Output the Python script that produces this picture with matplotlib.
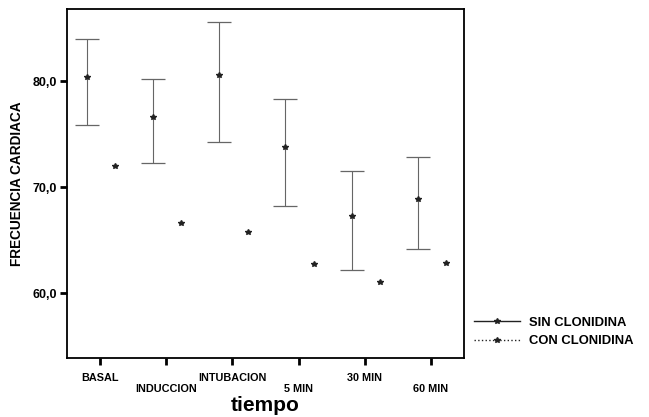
import matplotlib
matplotlib.use("Agg")
import matplotlib.pyplot as plt
from matplotlib.lines import Line2D

plt.rcParams['font.family'] = ['Liberation Sans', 'DejaVu Sans']

categories = ["BASAL", "INDUCCION", "INTUBACION", "5 MIN", "30 MIN", "60 MIN"]
sin_mean = [80.4, 76.6, 80.6, 73.8, 67.3, 68.9]
sin_low = [75.9, 72.3, 74.3, 68.2, 62.2, 64.2]
sin_high = [84.0, 80.2, 85.6, 78.3, 71.5, 72.8]
con_mean = [72.0, 66.6, 65.8, 62.7, 61.0, 62.8]
yticks = [60.0, 70.0, 80.0]
ytick_labels = ["60,0", "70,0", "80,0"]

fig = plt.figure(figsize=(6.49, 4.17), dpi=100)
ax = fig.add_axes([0.1032, 0.1415, 0.6118, 0.8365])

x = list(range(len(categories)))
xs = [i - 0.2 for i in x]
xc = [i + 0.23 for i in x]

yerr = [[m - l for m, l in zip(sin_mean, sin_low)],
        [h - m for m, h in zip(sin_mean, sin_high)]]
ax.errorbar(xs, sin_mean, yerr=yerr, fmt='*', color='#222222', ecolor='#666666',
            elinewidth=0.8, capsize=8.5, capthick=0.9, markersize=4)
ax.plot(xc, con_mean, linestyle='none', marker='*', color='#222222', markersize=4)

ax.set_xlim(-0.5, 5.5)
ax.set_ylim(53.87, 86.8)
ax.set_yticks(yticks)
ax.set_yticklabels(ytick_labels, fontsize=9, fontweight='bold')
ax.set_xticks(x)
labels = [c if i % 2 == 0 else "\n" + c for i, c in enumerate(categories)]
ax.set_xticklabels(labels, fontsize=7.8, fontweight='bold', linespacing=1.15)
ax.tick_params(axis='both', direction='out', length=5, width=2)
ax.tick_params(axis='x', pad=6)
ax.tick_params(axis='y', pad=2)
for s in ax.spines.values():
    s.set_linewidth(1.3)

ax.set_ylabel("FRECUENCIA CARDIACA", fontsize=9.8, fontweight='bold', labelpad=6)
ax.set_xlabel("tiempo", fontsize=15, fontweight='bold', labelpad=1)

handles = [
    Line2D([0], [0], color='#222222', lw=1.0, linestyle='-', marker='*', markersize=4),
    Line2D([0], [0], color='#222222', lw=1.0, linestyle=':', marker='*', markersize=4),
]
fig.legend(handles, ["SIN CLONIDINA", "CON CLONIDINA"], loc='center left',
           bbox_to_anchor=(0.713, 0.204), frameon=False,
           prop={'weight': 'bold', 'size': 9.4}, handlelength=3.5,
           handletextpad=0.7, labelspacing=0.5)

fig.savefig("out.png", dpi=100)
